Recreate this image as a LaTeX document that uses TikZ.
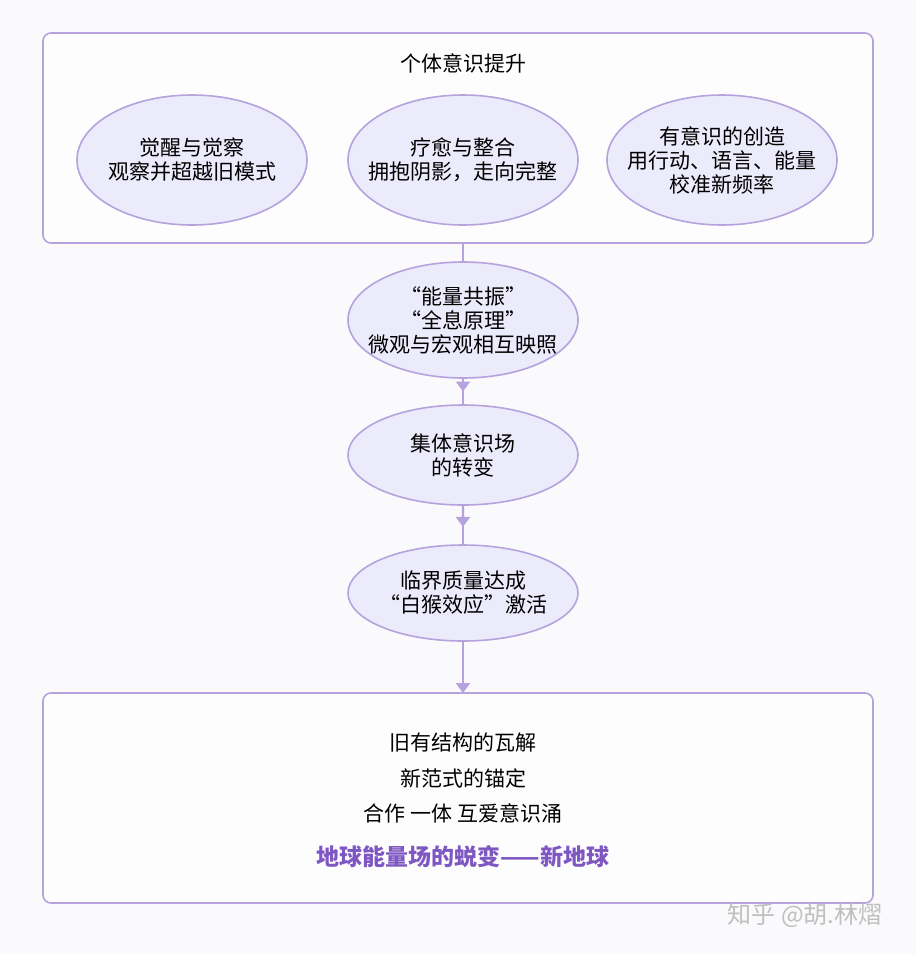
\documentclass[tikz,border=0pt]{standalone}
\usepackage{fontspec}
\setmainfont{Noto Sans CJK SC}
\usetikzlibrary{shapes.geometric,arrows.meta,calc}
\definecolor{lav}{HTML}{ECEBFC}
\definecolor{lavline}{HTML}{B6A2DC}
\definecolor{deep}{HTML}{7E57C2}
\definecolor{paper}{HTML}{FAFAFD}
\begin{document}
\begin{tikzpicture}[
        x=0.5pt, y=-0.5pt,
        box/.style={draw=lavline, line width=0.8pt, rounded corners=4pt, fill=white!60!paper},
        bubble/.style={ellipse, draw=lavline, line width=0.8pt, fill=lav, align=center,
                font=\fontsize{10.5}{12}\selectfont, inner sep=-9pt},
        line/.style={draw=lavline, line width=1.2pt},
        tip/.style={line, -{Triangle[width=7pt,length=5pt]}},
        txt/.style={font=\fontsize{10.5}{12}\selectfont},
    ]
    \useasboundingbox[fill=paper] (0,0) rectangle (916,954);

    % upper frame
    \draw[box] (43,33) rectangle (873,243);
    \node[txt] (title) at (463,63) {个体意识提升};
    \node[bubble, minimum width=115pt, minimum height=65pt] (wake) at (192,160) {觉醒与觉察\\观察并超越旧模式};
    \node[bubble, minimum width=115pt, minimum height=65pt] (heal) at (463,160) {疗愈与整合\\拥抱阴影，走向完整};
    \node[bubble, minimum width=115pt, minimum height=65pt] (make) at (722,160) {有意识的创造\\用行动、语言、能量\\校准新频率};
    \coordinate (frameb) at (463,243);

    % middle chain
    \node[bubble, minimum width=115pt, minimum height=58pt] (reso) at (463,320) {“能量共振”\\“全息原理”\\微观与宏观相互映照};
    \node[bubble, minimum width=115pt, minimum height=50pt] (field) at (463,455) {集体意识场\\的转变};
    \node[bubble, minimum width=115pt, minimum height=48pt] (mass) at (463,593) {临界质量达成\\“白猴效应”激活};

    % lower frame
    \draw[box] (43,693) rectangle (873,903);
    \coordinate (framet) at (463,693);
    \node[txt] (old) at (463,742) {旧有结构的瓦解};
    \node[txt] (new) at (463,778) {新范式的锚定};
    \node[txt] (love) at (463,813) {合作 一体 互爱意识涌};
    \node[font=\fontsize{11.5}{13}\selectfont\bfseries, text=deep] (earth) at (463,857) {地球能量场的蜕变——新地球};
    \node[text=black!25, font=\fontsize{12}{14}\selectfont] (mark) at (805,915) {知乎 @胡.林熠};

    \draw[line] (frameb) -- (reso);
    \draw[line] (reso) -- (field);
    \draw[tip] (reso.south) -- ($(reso.south)!0.5!(field.north)$);
    \draw[line] (field) -- (mass);
    \draw[tip] (field.south) -- ($(field.south)!0.55!(mass.north)$);
    \draw[tip] (mass) -- (framet);
\end{tikzpicture}
\end{document}
